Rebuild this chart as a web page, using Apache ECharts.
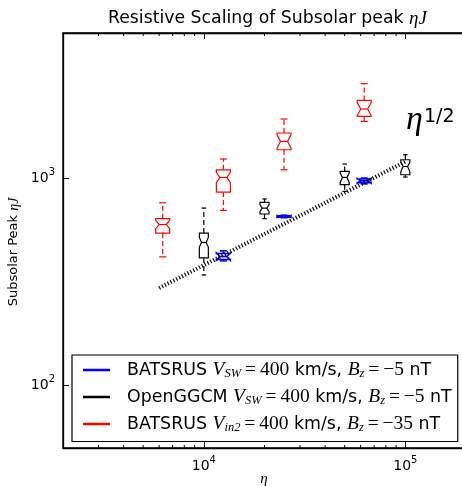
<!DOCTYPE html>
<html>
<head>
<meta charset="utf-8">
<script src="https://cdn.jsdelivr.net/npm/echarts@6/dist/echarts.min.js"></script>
<style>
html, body { margin: 0; padding: 0; background: #fff; }
#chart { width: 462px; height: 486px; }
</style>
</head>
<body>
<div id="chart"></div>
<script>
// box stats per row: [whiskerLow, q1, notchLow, median, notchHigh, q3, whiskerHigh]
var blueEta = [12500, 25000, 62500]
var blueStats = [
	[399, 405, 402, 419, 436, 433, 446],
	[644, 648, 646, 653, 660, 658, 662],
	[937, 950, 945, 970, 995, 990, 1000]
]
var blackEta = [10000, 20000, 50000, 100000]
var blackStats = [
	[341, 412, 465, 489, 517, 543, 717],
	[637, 671, 690, 716, 743, 763, 793],
	[862, 929, 952, 1007, 1057, 1076, 1168],
	[1011, 1037, 1075, 1137, 1190, 1225, 1295]
]
var redEta = [6250, 12500, 25000, 62500]
var redStats = [
	[417, 543, 570, 597, 625, 637, 760],
	[698, 856, 950, 1007, 1065, 1096, 1235],
	[1096, 1369, 1395, 1502, 1617, 1648, 1925],
	[1874, 1982, 1995, 2151, 2312, 2366, 2849]
]
// eta^(1/2) guide line
var guideEta = [6000, 100000]
var guideVal = [295, 1200]

var xMinorTicks = [3000, 4000, 5000, 6000, 7000, 8000, 9000, 20000, 30000, 40000, 50000, 60000, 70000, 80000, 90000]
var yMinorTicks = [60, 70, 80, 90, 200, 300, 400, 500, 600, 700, 800, 900, 2000, 3000, 4000]

var sans = 'DejaVu Sans'
var serif = 'Liberation Serif'

function toRows(eta, stats) {
	return eta.map(function (e, i) { return [e].concat(stats[i]) })
}

function boxRender(width, color, lw) {
	return function (params, api) {
		var x = api.value(0)
		var yOf = function (k) { return api.coord([x, api.value(k)])[1] }
		var cx = api.coord([x, api.value(4)])[0]
		var wl = yOf(1), q1 = yOf(2), nl = yOf(3), md = yOf(4), nh = yOf(5), q3 = yOf(6), wh = yOf(7)
		var L = cx - width / 2, R = cx + width / 2, cl = cx - width / 4, cr = cx + width / 4
		return {
			type: 'group',
			children: [
				{ type: 'line', shape: { x1: cx, y1: q3, x2: cx, y2: wh }, style: { stroke: color, lineWidth: lw, lineDash: [5, 3] } },
				{ type: 'line', shape: { x1: cx, y1: q1, x2: cx, y2: wl }, style: { stroke: color, lineWidth: lw, lineDash: [5, 3] } },
				{ type: 'line', shape: { x1: cl, y1: wh, x2: cr, y2: wh }, style: { stroke: color, lineWidth: lw } },
				{ type: 'line', shape: { x1: cl, y1: wl, x2: cr, y2: wl }, style: { stroke: color, lineWidth: lw } },
				{
					type: 'polygon',
					shape: { points: [[L, q1], [R, q1], [R, nl], [cr, md], [R, nh], [R, q3], [L, q3], [L, nh], [cl, md], [L, nl]] },
					style: { fill: '#fff', stroke: color, lineWidth: lw }
				},
				{ type: 'line', shape: { x1: cl, y1: md, x2: cr, y2: md }, style: { stroke: color, lineWidth: lw } }
			]
		}
	}
}

function minorXRender(params, api) {
	var px = api.coord([api.value(0), 1000])[0]
	var cs = params.coordSys
	var b = cs.y + cs.height
	return {
		type: 'group',
		children: [
			{ type: 'line', shape: { x1: px, y1: b, x2: px, y2: b - 3 }, style: { stroke: '#000', lineWidth: 1 } },
			{ type: 'line', shape: { x1: px, y1: cs.y, x2: px, y2: cs.y + 3 }, style: { stroke: '#000', lineWidth: 1 } }
		]
	}
}

function minorYRender(params, api) {
	var py = api.coord([10000, api.value(0)])[1]
	var cs = params.coordSys
	return { type: 'line', shape: { x1: cs.x, y1: py, x2: cs.x + 3, y2: py }, style: { stroke: '#000', lineWidth: 1 } }
}

function powLabel(v) {
	var e = Math.log10(v)
	if (Math.abs(e - Math.round(e)) > 1e-6) return ''
	return '{b|10}{s|' + Math.round(e) + '}'
}

var labelRich = {
	b: { fontFamily: sans, fontSize: 14, color: '#000' },
	s: { fontFamily: sans, fontSize: 10, color: '#000', padding: [0, 0, 12, 0] }
}

var legendText = {
	'BATSRUS Vsw': '{g| }{t|BATSRUS }{i|V}{sub|SW}{m|\u2009=\u2009400}{t| km/s, }{i|B}{sub|z}{m|\u2009=\u2009−5}{t| nT}',
	'OpenGGCM': '{g| }{t|OpenGGCM }{i|V}{sub|SW}{m|\u2009=\u2009400}{t| km/s, }{i|B}{sub|z}{m|\u2009=\u2009−5}{t| nT}',
	'BATSRUS Vin2': '{g| }{t|BATSRUS }{i|V}{sub|in2}{m|\u2009=\u2009400}{t| km/s, }{i|B}{sub|z}{m|\u2009=\u2009−35}{t| nT}'
}

var myChart = echarts.init(document.getElementById('chart'), null, { renderer: 'canvas' })
var axisLine = { show: true, lineStyle: { color: '#000', width: 1.3 } }
var option = {
	animation: false,
	backgroundColor: '#fff',
	title: {
		text: 'Resistive Scaling of Subsolar peak {m|ηJ}',
		left: 103,
		top: 4,
		textStyle: {
			fontFamily: sans, fontSize: 17.3, fontWeight: 'normal', color: '#000',
			rich: { m: { fontFamily: serif, fontStyle: 'italic', fontSize: 19, color: '#000' } }
		}
	},
	grid: { left: 63, width: 403, top: 33, bottom: 38, outerBoundsMode: 'none', show: true, borderColor: '#000', borderWidth: 1.3 },
	legend: {
		orient: 'vertical',
		left: 72,
		top: 355,
		data: ['BATSRUS Vsw', 'OpenGGCM', 'BATSRUS Vin2'],
		icon: 'rect',
		itemWidth: 27,
		itemHeight: 2.5,
		itemGap: 6.5,
		padding: [5, 6, 7, 11],
		borderColor: '#000',
		borderWidth: 1.2,
		backgroundColor: '#fff',
		borderRadius: 0,
		formatter: function (name) { return legendText[name] },
		textStyle: {
			rich: {
				g: { width: 12 },
				t: { fontFamily: sans, fontSize: 17.4, color: '#000', lineHeight: 20 },
				i: { fontFamily: serif, fontStyle: 'italic', fontSize: 19.5, color: '#000', lineHeight: 20 },
				sub: { fontFamily: serif, fontStyle: 'italic', fontSize: 12.5, color: '#000', padding: [8, 0, 0, 0] },
				m: { fontFamily: serif, fontSize: 19.5, color: '#000', lineHeight: 20 }
			}
		}
	},
	xAxis: [{
		type: 'log', logBase: 10, min: 2000, max: 200000, position: 'bottom',
		axisLine: axisLine,
		axisTick: { show: true, inside: true, length: 6, lineStyle: { color: '#000' } },
		splitLine: { show: false },
		axisLabel: { formatter: powLabel, rich: labelRich, margin: 7 }
	}, {
		type: 'log', logBase: 10, min: 2000, max: 200000, position: 'top',
		axisLine: axisLine,
		axisTick: { show: true, inside: true, length: 6, lineStyle: { color: '#000' } },
		splitLine: { show: false },
		axisLabel: { show: false }
	}],
	yAxis: {
		type: 'log', logBase: 10, min: 50, max: 5000,
		axisLine: axisLine,
		axisTick: { show: true, inside: true, length: 6, lineStyle: { color: '#000' } },
		splitLine: { show: false },
		axisLabel: { formatter: powLabel, rich: labelRich, margin: 8 }
	},
	graphic: [
		{
			type: 'text', x: 14, y: 252, rotation: Math.PI / 2,
			style: {
				text: '{t|Subsolar Peak }{m|ηJ}', align: 'center', verticalAlign: 'middle',
				rich: {
					t: { fontFamily: sans, fontSize: 13, fill: '#000' },
					m: { fontFamily: serif, fontStyle: 'italic', fontSize: 14, fill: '#000' }
				}
			}
		},
		{ type: 'text', x: 264, y: 479, style: { text: 'η', fontFamily: serif, fontStyle: 'italic', fontSize: 15, fill: '#000', align: 'center', verticalAlign: 'middle' } },
		{ type: 'text', x: 406, y: 103, style: { text: 'η', fontFamily: serif, fontStyle: 'italic', fontSize: 34, fill: '#000' } },
		{ type: 'text', x: 424, y: 108, style: { text: '1/2', fontFamily: sans, fontSize: 19, fill: '#000' } }
	],
	series: [{
		type: 'custom', name: 'minorX', silent: true, clip: false,
		renderItem: minorXRender,
		data: xMinorTicks.map(function (v) { return [v, 1000] })
	}, {
		type: 'custom', name: 'minorY', silent: true, clip: false,
		renderItem: minorYRender,
		data: yMinorTicks.map(function (v) { return [10000, v] }),
		encode: { x: 0, y: 1 }
	}, {
		type: 'line', name: 'guide', silent: true, symbol: 'none',
		data: guideEta.map(function (e, i) { return [e, guideVal[i]] }),
		lineStyle: { color: '#111', width: 4, type: [1.2, 2] }
	}, {
		type: 'custom', name: 'BATSRUS Vsw', itemStyle: { color: '#0000ff' },
		renderItem: boxRender(14, '#0000ff', 1.6),
		encode: { x: 0, y: [1, 2, 3, 4, 5, 6, 7] },
		data: toRows(blueEta, blueStats)
	}, {
		type: 'custom', name: 'OpenGGCM', itemStyle: { color: '#000' },
		renderItem: boxRender(9, '#000', 1.2),
		encode: { x: 0, y: [1, 2, 3, 4, 5, 6, 7] },
		data: toRows(blackEta, blackStats)
	}, {
		type: 'custom', name: 'BATSRUS Vin2', itemStyle: { color: '#ff0000' },
		renderItem: boxRender(14, '#ff0000', 1.2),
		encode: { x: 0, y: [1, 2, 3, 4, 5, 6, 7] },
		data: toRows(redEta, redStats)
	}]
}
myChart.setOption(option)
</script>
</body>
</html>
